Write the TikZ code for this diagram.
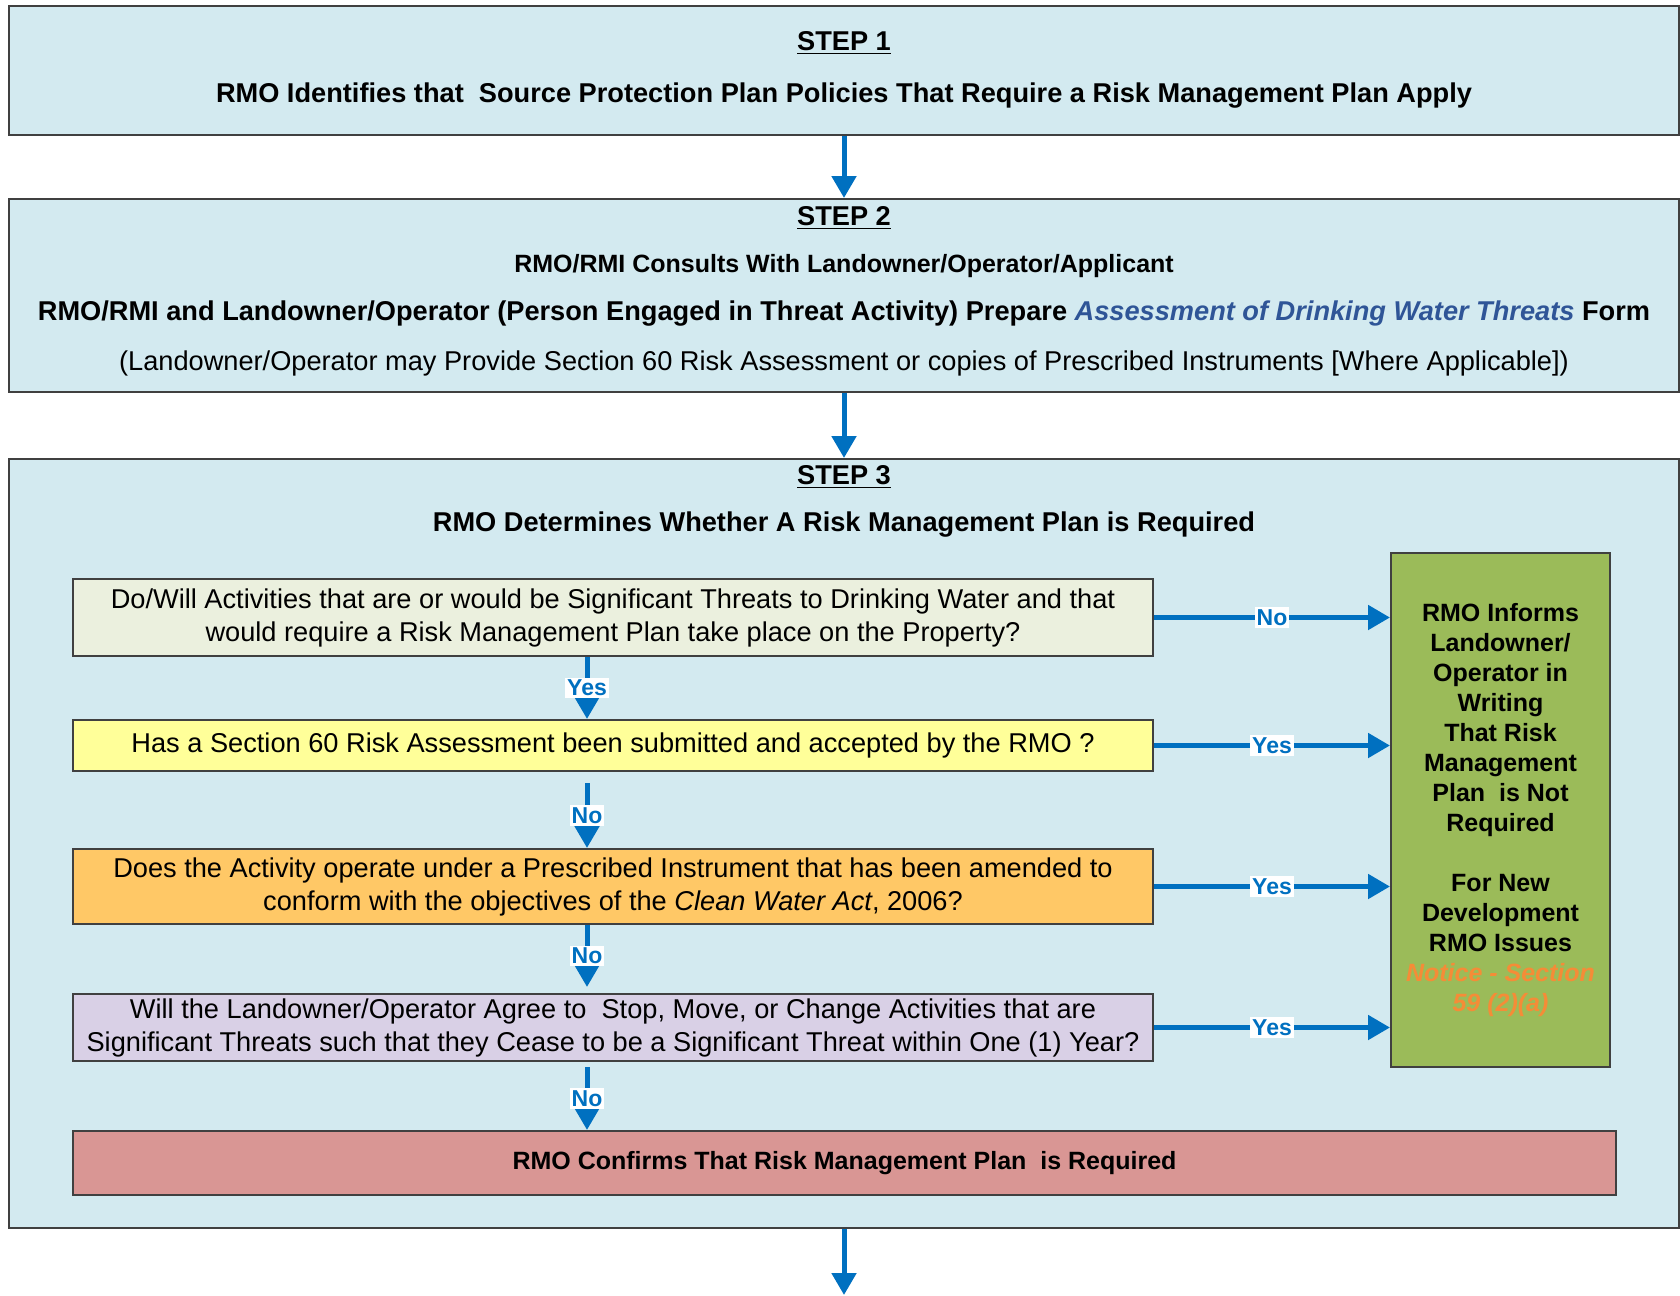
\documentclass[tikz,border=0pt]{standalone}
\usepackage{fontspec}
\setmainfont{Liberation Sans}
\usetikzlibrary{arrows.meta,positioning}

\definecolor{stepfill}{RGB}{211,234,240}
\definecolor{askfill}{RGB}{235,240,222}
\definecolor{sectfill}{RGB}{255,255,153}
\definecolor{instrfill}{RGB}{255,200,102}
\definecolor{agreefill}{RGB}{217,208,230}
\definecolor{rmpfill}{RGB}{217,150,148}
\definecolor{informfill}{RGB}{155,187,89}
\definecolor{flowblue}{RGB}{0,112,192}
\definecolor{formblue}{RGB}{47,85,151}
\definecolor{noticeorange}{RGB}{245,140,55}

\newcommand{\notice}[1]{\textcolor{noticeorange}{\itshape #1}}

\tikzset{
    stepbox/.style={draw=black!75, line width=1pt, fill=stepfill, minimum width=835pt, inner sep=0pt},
    qbox/.style={draw=black!75, line width=1pt, minimum width=540pt, inner sep=0pt, align=center,
                 font=\fontsize{13.6}{16.5}\selectfont},
    headline/.style={font=\bfseries\fontsize{13.6}{15}\selectfont},
    flow/.style={draw=flowblue, line width=2.5pt, -{Triangle[length=11pt,width=12pt]}},
    tag/.style={fill=white, text=flowblue, inner sep=1pt, font=\bfseries\fontsize{11.5}{13}\selectfont}
}

\begin{document}
\begin{tikzpicture}[x=0.5pt, y=-0.5pt]
    \path[fill=white, use as bounding box] (0,0) rectangle (1680,1295);

    \node[stepbox, minimum height=64.5pt] (step1) at (844,70.5) {};
    \node[stepbox, minimum height=96.5pt] (step2) at (844,295.5) {};
    \node[stepbox, minimum height=384.5pt] (step3) at (844,843.5) {};

    \node[headline] (title1) at (844,43) {\underline{STEP 1}};
    \node[headline] (text1) at (844,96) {RMO Identifies that\ \ Source Protection Plan Policies That Require a Risk Management Plan Apply};

    \node[headline] (title2) at (844,218) {\underline{STEP 2}};
    \node[font=\bfseries\fontsize{12.5}{14}\selectfont] (text2a) at (844,266) {RMO/RMI Consults With Landowner/Operator/Applicant};
    \node[headline] (text2b) at (844,314)
        {RMO/RMI and Landowner/Operator (Person Engaged in Threat Activity) Prepare \textcolor{formblue}{\itshape Assessment of Drinking Water Threats} Form};
    \node[font=\fontsize{13.6}{15}\selectfont] (text2c) at (844,363)
        {(Landowner/Operator may Provide Section 60 Risk Assessment or copies of Prescribed Instruments [Where Applicable])};

    \node[headline] (title3) at (844,477) {\underline{STEP 3}};
    \node[headline] (text3) at (844,525) {RMO Determines Whether A Risk Management Plan is Required};

    \node[qbox, fill=askfill, minimum height=38.5pt] (ask) at (613,617.5)
        {Do/Will Activities that are or would be Significant Threats to Drinking Water and that\\
         would require a Risk Management Plan take place on the Property?};
    \node[qbox, fill=sectfill, minimum height=25.5pt] (sect) at (613,745.5)
        {Has a Section 60 Risk Assessment been submitted and accepted by the RMO ?};
    \node[qbox, fill=instrfill, minimum height=37.5pt] (instr) at (613,886.5)
        {Does the Activity operate under a Prescribed Instrument that has been amended to\\
         conform with the objectives of the \textit{Clean Water Act}, 2006?};
    \node[qbox, fill=agreefill, minimum height=33.5pt] (agree) at (613,1027.5)
        {Will the Landowner/Operator Agree to\ \ Stop, Move, or Change Activities that are\\
         Significant Threats such that they Cease to be a Significant Threat within One (1) Year?};

    \node[draw=black!75, line width=1pt, fill=rmpfill, minimum width=771.5pt, minimum height=32pt,
          font=\bfseries\fontsize{12.5}{14}\selectfont] (rmp) at (844.5,1163)
        {RMO Confirms That Risk Management Plan\ \ is Required};

    \node[draw=black!75, line width=1pt, fill=informfill, minimum width=109.5pt, minimum height=257pt,
          inner sep=0pt, align=center, font=\bfseries\fontsize{12.5}{15}\selectfont] (inform) at (1500.5,810)
        {RMO Informs\\Landowner/\\Operator in\\Writing\\That Risk\\Management\\Plan\ \ is Not\\Required\\ \\
         For New\\Development\\RMO Issues\\\notice{Notice - Section}\\\notice{59 (2)(a)}};

    \coordinate (col) at (587,0);
    \coordinate (out) at (844,1295);

    \draw[flow] (step1) -- (step2);
    \draw[flow] (step2) -- (step3);
    \draw[flow] (step3) -- (out);

    \draw[flow] (ask.south -| col) -- node[tag] {Yes} (sect.north -| col);
    \draw[flow] ([yshift=-5.5pt]sect.south -| col) -- node[tag] {No} (instr.north -| col);
    \draw[flow] (instr.south -| col) -- node[tag] {No} ([yshift=3pt]agree.north -| col);
    \draw[flow] ([yshift=-2.5pt]agree.south -| col) -- node[tag] {No} (rmp.north -| col);

    \draw[flow] (ask.east) -- node[tag] {No} (ask.east -| inform.west);
    \draw[flow] (sect.east) -- node[tag] {Yes} (sect.east -| inform.west);
    \draw[flow] (instr.east) -- node[tag] {Yes} (instr.east -| inform.west);
    \draw[flow] (agree.east) -- node[tag] {Yes} (agree.east -| inform.west);
\end{tikzpicture}
\end{document}
